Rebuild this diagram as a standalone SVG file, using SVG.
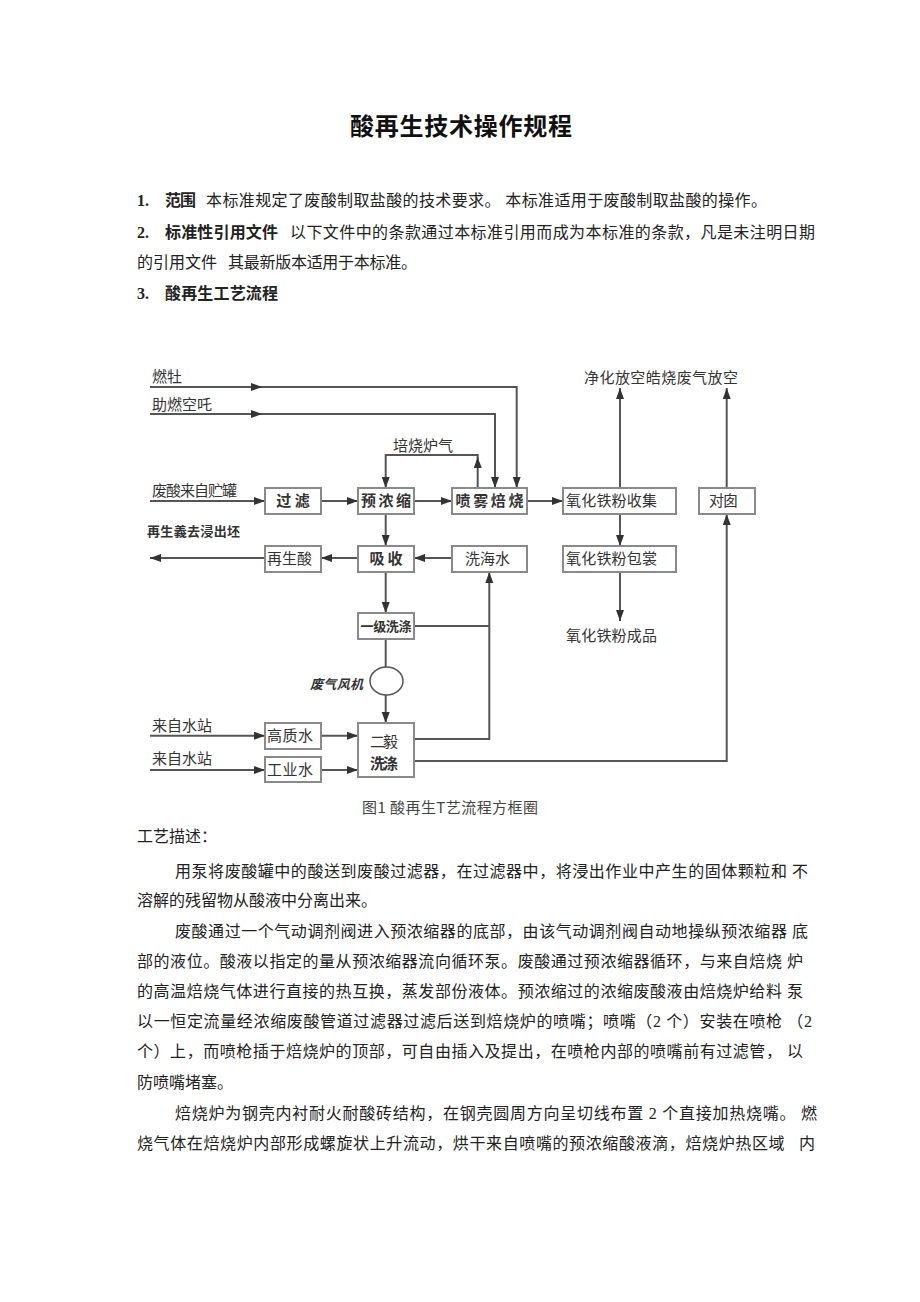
<svg xmlns="http://www.w3.org/2000/svg" width="920" height="1302" viewBox="0 0 920 1302">
<defs>
<style>
.t{font-family:"Liberation Serif","Noto Sans CJK SC",serif;font-size:16px;fill:#222}
.b{font-family:"Noto Sans CJK SC",sans-serif;font-weight:bold}
.title{font-family:"Noto Sans CJK SC",sans-serif;font-size:24px;font-weight:bold;fill:#111}
.lb{font-family:"Noto Sans CJK SC",sans-serif;font-size:15px;fill:#333}
.lbb{font-family:"Noto Sans CJK SC",sans-serif;font-size:15px;font-weight:bold;fill:#333}
.box{fill:#fff;stroke:#8a8a8a;stroke-width:2}
.ln{fill:none;stroke:#555;stroke-width:2}
</style>
<marker id="ah" markerUnits="userSpaceOnUse" markerWidth="12" markerHeight="10" refX="11" refY="4" orient="auto">
<path d="M0,0 L11,4 L0,8 Z" fill="#333"/>
</marker>
</defs>
<rect width="920" height="1302" fill="#fff"/>

<g id="header">
<text class="title" x="461" y="135" text-anchor="middle" textLength="222">酸再生技术操作规程</text>
<text class="t" x="137" y="206" font-weight="bold">1.</text>
<text class="t b" x="165" y="206" textLength="31">范围</text>
<text class="t" x="206" y="206" textLength="561">本标准规定了废酸制取盐酸的技术要求。 本标准适用于废酸制取盐酸的操作。</text>
<text class="t" x="137" y="238" font-weight="bold">2.</text>
<text class="t b" x="165" y="238" textLength="113">标准性引用文件</text>
<text class="t" x="290" y="238" textLength="525">以下文件中的条款通过本标准引用而成为本标准的条款，凡是未注明日期</text>
<text class="t" x="137" y="268" textLength="80">的引用文件</text>
<text class="t" x="228" y="268" textLength="189">其最新版本适用于本标准。</text>
<text class="t" x="137" y="299" font-weight="bold">3.</text>
<text class="t b" x="165" y="299" textLength="113">酸再生工艺流程</text>
</g>

<g id="connectors">
<path class="ln" d="M150,387 H262" marker-end="url(#ah)"/>
<path class="ln" d="M262,387 H516.7 V488" marker-end="url(#ah)"/>
<path class="ln" d="M150,414 H262" marker-end="url(#ah)"/>
<path class="ln" d="M262,414 H495 V488" marker-end="url(#ah)"/>
<path class="ln" d="M150,501 H265" marker-end="url(#ah)"/>
<path class="ln" d="M321,501 H358" marker-end="url(#ah)"/>
<path class="ln" d="M414,501 H452" marker-end="url(#ah)"/>
<path class="ln" d="M527,501 H563" marker-end="url(#ah)"/>
<path class="ln" d="M477.7,488 V457" marker-end="url(#ah)"/>
<path class="ln" d="M477.7,458 V455 H385.7 V488" marker-end="url(#ah)"/>
<path class="ln" d="M385.7,514 V546" marker-end="url(#ah)"/>
<path class="ln" d="M452,558 H414" marker-end="url(#ah)"/>
<path class="ln" d="M358,558 H321" marker-end="url(#ah)"/>
<path class="ln" d="M265,558 H150" marker-end="url(#ah)"/>
<path class="ln" d="M385.7,572 V613" marker-end="url(#ah)"/>
<path class="ln" d="M385.7,639 V667"/>
<path class="ln" d="M385.7,695 V723" marker-end="url(#ah)"/>
<path class="ln" d="M414,626 H489.3"/>
<path class="ln" d="M414,739 H489.3 V572" marker-end="url(#ah)"/>
<path class="ln" d="M414,761 H726.7 V514" marker-end="url(#ah)"/>
<path class="ln" d="M620,514 V546" marker-end="url(#ah)"/>
<path class="ln" d="M620,572 V621" marker-end="url(#ah)"/>
<path class="ln" d="M620,488 V388" marker-end="url(#ah)"/>
<path class="ln" d="M726.7,488 V388" marker-end="url(#ah)"/>
<path class="ln" d="M150,735.7 H265" marker-end="url(#ah)"/>
<path class="ln" d="M150,770 H265" marker-end="url(#ah)"/>
<path class="ln" d="M321,735.7 H358" marker-end="url(#ah)"/>
<path class="ln" d="M321,770 H358" marker-end="url(#ah)"/>
</g>

<g id="labels">
<text class="lb" x="152" y="382">燃牡</text>
<text class="lb" x="152" y="410" textLength="60">助燃空吒</text>
<text class="lb" x="152" y="496" textLength="85">废酸来自贮罐</text>
<text class="lb" x="393" y="451" textLength="60">培烧炉气</text>
<text class="lbb" x="147" y="536" style="font-size:13px" textLength="93">再生義去浸出坯</text>
<text class="lb" x="584" y="383" textLength="154">净化放空皓烧废气放空</text>
<text class="lb" x="566" y="641" textLength="91">氧化铁粉成品</text>
<text class="lbb" x="310" y="689" style="font-size:13px;font-style:italic" textLength="53">废气风机</text>
<text class="lb" x="152" y="731" textLength="60">来自水站</text>
<text class="lb" x="152" y="764" textLength="60">来自水站</text>
<text class="lb" x="362" y="813" style="fill:#444" textLength="176">图1 酸再生T艺流程方框圈</text>
</g>

<g id="n-guolv"><rect class="box" x="265" y="488" width="56" height="26"/><text class="lbb" x="293" y="506" text-anchor="middle">过 滤</text></g>
<g id="n-yunongsuo"><rect class="box" x="358" y="488" width="56" height="26"/><text class="lbb" x="386" y="506" text-anchor="middle" textLength="50">预浓缩</text></g>
<g id="n-penwu"><rect class="box" x="452" y="488" width="75" height="26"/><text class="lbb" x="489.5" y="506" text-anchor="middle" textLength="68">喷雾焙烧</text></g>
<g id="n-shouji"><rect class="box" x="563" y="488" width="113" height="26"/><text class="lb" x="566" y="506" textLength="91">氧化铁粉收集</text></g>
<g id="n-duichuang"><rect class="box" x="699" y="488" width="56" height="26"/><text class="lb" x="709" y="506" textLength="29">对囱</text></g>
<g id="n-zaishengsuan"><rect class="box" x="265" y="546" width="56" height="26"/><text class="lb" x="267" y="564" textLength="45">再生酸</text></g>
<g id="n-xishou"><rect class="box" x="358" y="546" width="56" height="26"/><text class="lbb" x="386" y="564" text-anchor="middle" textLength="33">吸收</text></g>
<g id="n-xihaishui"><rect class="box" x="452" y="546" width="75" height="26"/><text class="lb" x="465" y="564" textLength="45">洗海水</text></g>
<g id="n-baozhuang"><rect class="box" x="563" y="546" width="113" height="26"/><text class="lb" x="566" y="564" textLength="91">氧化铁粉包裳</text></g>
<g id="n-yiji"><rect class="box" x="358" y="613" width="56" height="26"/><text class="lbb" x="386" y="631" text-anchor="middle" style="font-size:13px" textLength="51">一级洗涤</text></g>
<g id="n-fan"><ellipse cx="386.5" cy="681" rx="16.5" ry="14" fill="#fff" stroke="#555" stroke-width="1.5"/></g>
<g id="n-erji"><rect class="box" x="358" y="723" width="56" height="54"/><text class="lb" x="384" y="747" text-anchor="middle" textLength="28">二毅</text><text class="lbb" x="384" y="769" text-anchor="middle" textLength="28">洗涤</text></g>
<g id="n-gaozhishui"><rect class="box" x="265" y="723" width="56" height="26"/><text class="lb" x="267" y="741" textLength="46">高质水</text></g>
<g id="n-gongyeshui"><rect class="box" x="265" y="757" width="56" height="25"/><text class="lb" x="267" y="775" textLength="46">工业水</text></g>

<g id="description">
<text class="t" x="137" y="842">工艺描述：</text>
<text class="t" x="175" y="877" textLength="633">用泵将废酸罐中的酸送到废酸过滤器，在过滤器中，将浸出作业中产生的固体颗粒和 不</text>
<text class="t" x="137" y="906">溶解的残留物从酸液中分离出来。</text>
<text class="t" x="175" y="937" textLength="633">废酸通过一个气动调剂阀进入预浓缩器的底部，由该气动调剂阀自动地操纵预浓缩器 底</text>
<text class="t" x="137" y="967" textLength="666">部的液位。酸液以指定的量从预浓缩器流向循环泵。废酸通过预浓缩器循环，与来自焙烧 炉</text>
<text class="t" x="137" y="997" textLength="666">的高温焙烧气体进行直接的热互换，蒸发部份液体。预浓缩过的浓缩废酸液由焙烧炉给料 泵</text>
<text class="t" x="137" y="1027" textLength="675">以一恒定流量经浓缩废酸管道过滤器过滤后送到焙烧炉的喷嘴；喷嘴（2 个）安装在喷枪 （2</text>
<text class="t" x="137" y="1057" textLength="666">个）上，而喷枪插于焙烧炉的顶部，可自由插入及提出，在喷枪内部的喷嘴前有过滤管， 以</text>
<text class="t" x="137" y="1088">防喷嘴堵塞。</text>
<text class="t" x="175" y="1119" textLength="642">焙烧炉为钢壳内衬耐火耐酸砖结构，在钢壳圆周方向呈切线布置 2 个直接加热烧嘴。 燃</text>
<text class="t" x="137" y="1149" textLength="678" xml:space="preserve">烧气体在焙烧炉内部形成螺旋状上升流动，烘干来自喷嘴的预浓缩酸液滴，焙烧炉热区域   内</text>
</g>
</svg>
